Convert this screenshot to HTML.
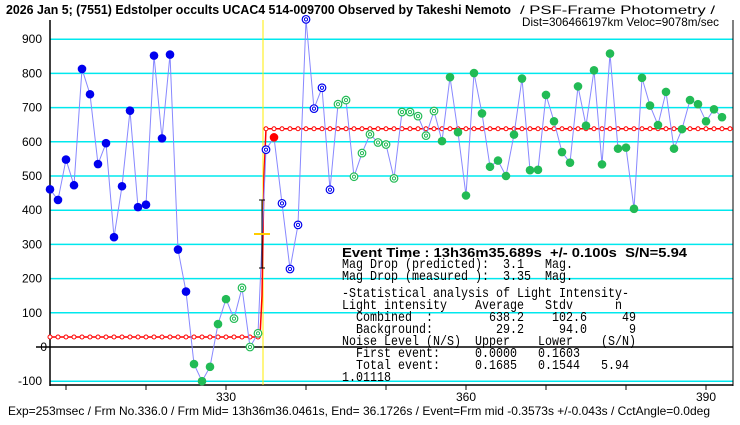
<!DOCTYPE html>
<html><head><meta charset="utf-8"><style>
html,body{margin:0;padding:0;background:#fff;}
svg{display:block;}
text{font-family:"Liberation Sans",sans-serif;}
text.m{font-family:"Liberation Mono",monospace;}
</style></head><body>
<svg id="s" width="740" height="425" xmlns="http://www.w3.org/2000/svg">
<rect width="740" height="425" fill="#fff"/>
<g id="grid"></g>
<line x1="263" y1="20" x2="263" y2="385" stroke="#ffee00" stroke-width="1"/>
<g id="data"></g>
<text x="6" y="14" font-size="13" font-weight="bold" textLength="505" lengthAdjust="spacingAndGlyphs">2026 Jan 5; (7551) Edstolper occults UCAC4 514-009700 Observed by Takeshi Nemoto</text>
<text x="520" y="14" font-size="12" textLength="195" lengthAdjust="spacingAndGlyphs">/ PSF-Frame Photometry /</text>
<text x="522" y="26" font-size="12" textLength="197" lengthAdjust="spacingAndGlyphs">Dist=306466197km Veloc=9078m/sec</text>
<g id="box"></g>
<text x="8" y="415" font-size="12" textLength="702" lengthAdjust="spacingAndGlyphs">Exp=253msec / Frm No.336.0 / Frm Mid= 13h36m36.0461s, End= 36.1726s / Event=Frm mid -0.3573s +/-0.043s / CctAngle=0.0deg</text>
</svg>
<script>
var NS="http://www.w3.org/2000/svg";
function el(p,t,a,txt){var e=document.createElementNS(NS,t);for(var k in a)e.setAttribute(k,a[k]);if(txt!=null)e.textContent=txt;p.appendChild(e);return e;}
function Y(v){return 347-0.342*v;}
function X(f){return 226+8*(f-330);}
var g=document.getElementById('grid');
[900,800,700,600,500,400,300,200,100,-100].forEach(function(v){el(g,'line',{x1:50,x2:733,y1:Y(v),y2:Y(v),stroke:'#00e8ee','stroke-width':1.5});});
el(g,'line',{x1:36,x2:733,y1:347,y2:347,stroke:'#000','stroke-width':1.5});
el(g,'line',{x1:50,x2:50,y1:20,y2:386,stroke:'#000','stroke-width':1.5});
el(g,'line',{x1:50,x2:733,y1:385,y2:385,stroke:'#000','stroke-width':1.5});
el(g,'line',{x1:733,x2:733,y1:20,y2:386,stroke:'#000','stroke-width':1});
[310,320,330,340,350,360,370,380,390].forEach(function(f){el(g,'line',{x1:X(f),x2:X(f),y1:385,y2:390,stroke:'#000'});});
[[330,'330'],[360,'360'],[390,'390']].forEach(function(a){el(g,'text',{x:X(a[0]),y:401,'font-size':12,'text-anchor':'middle'},a[1]);});
[900,800,700,600,500,400,300,200,100,-100].forEach(function(v){el(g,'text',{x:42,y:Y(v)+4,'font-size':12,'text-anchor':'end'},String(v));});
el(g,'text',{x:47,y:351,'font-size':12,'text-anchor':'end'},'0');
var vals=[461,430,548,473,813,739,535,596,321,470,691,409,416,852,610,855,285,162,-50,-100,-58,67,140,83,173,0,40,577,613,420,228,357,958,697,758,460,710,722,498,567,622,598,592,493,687,687,675,618,690,602,789,628,443,801,683,527,545,500,621,785,517,518,737,660,570,539,762,647,809,534,858,580,583,404,787,706,649,746,580,637,722,710,660,695,672];
var d=document.getElementById('data');
var ry=Y(29.2),ry2=Y(638.2);
el(d,'polyline',{points:'50,'+ry+' 260,'+ry+' 262,'+Y(150)+' 264,'+Y(500)+' 266,'+ry2+' 733,'+ry2,fill:'none',stroke:'#ff0000','stroke-width':1.5});
for(var x=50;x<=262;x+=8)el(d,'circle',{cx:x,cy:ry,r:2,fill:'#fff',stroke:'#ff0000','stroke-width':1});
for(var x=266;x<=730;x+=8)el(d,'circle',{cx:x,cy:ry2,r:2,fill:'#fff',stroke:'#ff0000','stroke-width':1});
var pts=vals.map(function(v,i){return X(308+i)+','+Y(v);}).join(' ');
el(d,'polyline',{points:pts,fill:'none',stroke:'#8888ff','stroke-width':1});
el(d,'line',{x1:262,x2:262,y1:200,y2:268,stroke:'#000'});
el(d,'line',{x1:259,x2:265,y1:200,y2:200,stroke:'#000'});
el(d,'line',{x1:259,x2:265,y1:268,y2:268,stroke:'#000'});
el(d,'line',{x1:254,x2:270,y1:234,y2:234,stroke:'#ffcc00','stroke-width':2});
vals.forEach(function(v,i){var f=308+i,cx=X(f),cy=Y(v),c,open;
 if(f<=325){c='#0000ee';open=false;}
 else if(f<=330){c='#22bb55';open=false;}
 else if(f<=334){c='#22bb55';open=true;}
 else if(f==336){c='#ff0000';open=false;}
 else if(f<=343){c='#0000ee';open=true;}
 else if(f<=356){c='#22bb55';open=true;}
 else {c='#22bb55';open=false;}
 if(open){el(d,'circle',{cx:cx,cy:cy,r:3.8,fill:'#fff',stroke:c,'stroke-width':1.2});el(d,'circle',{cx:cx,cy:cy,r:1.6,fill:'none',stroke:c,'stroke-width':1});}
 else el(d,'circle',{cx:cx,cy:cy,r:4.3,fill:c});
});
var b=document.getElementById('box');
var lines=[
[257,'Event Time : 13h36m35.689s  +/- 0.100s  S/N=5.94',true],
[268,'Mag Drop (predicted):  3.1   Mag.'],
[280,'Mag Drop (measured ):  3.35  Mag.'],
[297,'-Statistical analysis of Light Intensity-'],
[309,'Light intensity    Average   Stdv      n'],
[321,'  Combined  :        638.2    102.6     49'],
[333,'  Background:         29.2     94.0      9'],
[345,'Noise Level (N/S)  Upper    Lower    (S/N)'],
[357,'  First event:     0.0000   0.1603'],
[369,'  Total event:     0.1685   0.1544   5.94'],
[381,'1.01118']];
lines.forEach(function(l){
 var s=l[1].replace(/ /g,'\u00a0');
 if(l[2]){el(b,'text',{x:342,y:l[0],'font-size':13,'font-weight':'bold',textLength:345,lengthAdjust:'spacingAndGlyphs'},s);}
 else{el(b,'text',{'class':'m',x:342,y:l[0],'font-size':14,textLength:(l[1].length*7.0),lengthAdjust:'spacingAndGlyphs'},s);}
});
</script>
</body></html>
